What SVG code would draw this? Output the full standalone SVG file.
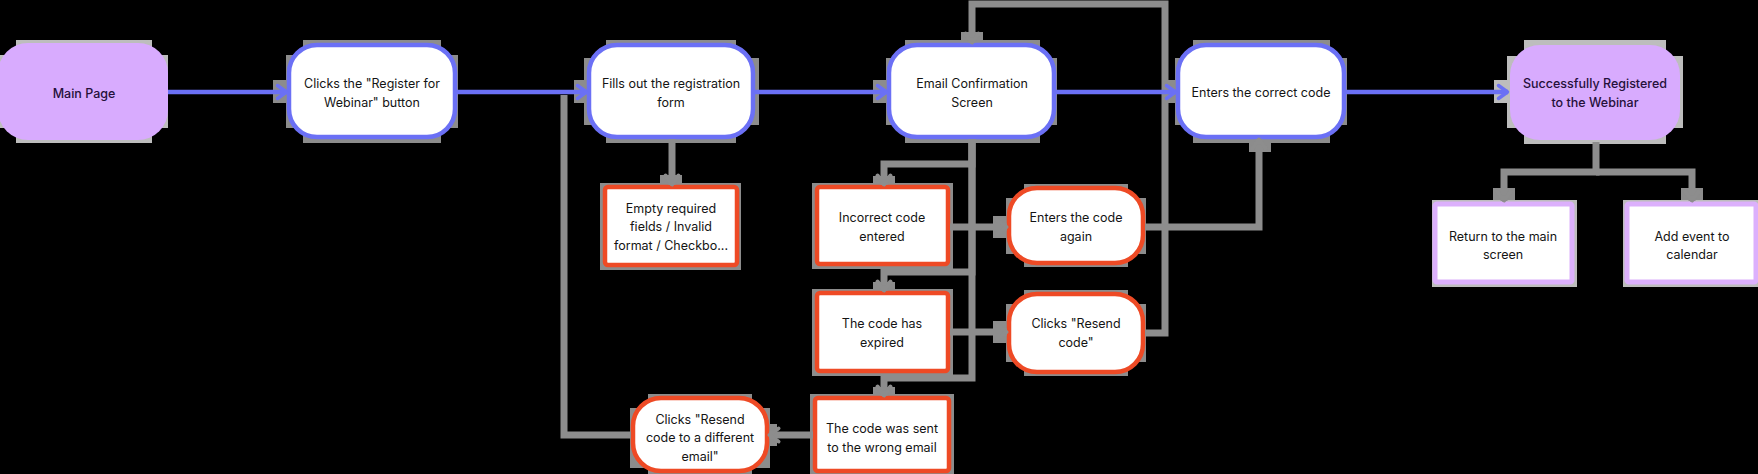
<svg xmlns="http://www.w3.org/2000/svg" width="1758" height="474" viewBox="0 0 1758 474">
<style>
.gh{fill:#8c8c8c}
.ghp{fill:#bdbdbd}
.nb{fill:#ffffff;stroke:#6b70f5;stroke-width:4.5}
.nr{fill:#ffffff;stroke:#ee4a25;stroke-width:4.5}
.np{fill:#d8abfe}
.npo{fill:#ffffff;stroke:#dcb0fc;stroke-width:5}
.cb{fill:none;stroke:#6b70f5;stroke-width:4.5}
.cg{fill:none;stroke:#8d8d8d;stroke-width:7}
text{font-family:Inter,"Noto Sans","Liberation Sans",sans-serif;font-size:12.5px;fill:#141414;text-anchor:middle}
.tp{fill:#25103a;font-weight:500}
</style>
<defs>
<marker id="ab" viewBox="0 0 12 16" markerWidth="12" markerHeight="16" markerUnits="userSpaceOnUse" refX="11" refY="8" orient="auto" overflow="visible">
<path d="M1.5,1.5 L10.5,8 L1.5,14.5" fill="none" stroke="#6b70f5" stroke-width="3.5" stroke-linecap="round" stroke-linejoin="round"/>
</marker>
<marker id="ag" viewBox="0 0 12 16" markerWidth="12" markerHeight="16" markerUnits="userSpaceOnUse" refX="11" refY="8" orient="auto" overflow="visible">
<path d="M1.5,1.5 L10.5,8 L1.5,14.5" fill="none" stroke="#8d8d8d" stroke-width="4" stroke-linecap="round" stroke-linejoin="round"/>
</marker>
</defs>
<rect width="1758" height="474" fill="#000000"/>

<g id="ghosts">
<rect class="ghp" x="16" y="40" width="136" height="103"/>
<rect class="ghp" x="-3" y="55" width="171" height="73"/>
<rect class="gh" x="303" y="40" width="138" height="103"/>
<rect class="gh" x="286" y="55" width="172" height="73"/>
<rect class="gh" x="606" y="40" width="130" height="103"/>
<rect class="gh" x="584" y="58" width="175" height="67"/>
<rect class="gh" x="905" y="40" width="135" height="103"/>
<rect class="gh" x="886" y="58" width="171" height="67"/>
<rect class="gh" x="1193" y="40" width="137" height="103"/>
<rect class="gh" x="1175" y="58" width="172" height="67"/>
<rect class="ghp" x="1524" y="40" width="142" height="104"/>
<rect class="ghp" x="1507" y="56" width="176" height="72"/>
<rect class="gh" x="600" y="183" width="141" height="87"/>
<rect class="gh" x="812" y="183" width="141" height="86"/>
<rect class="gh" x="1024" y="184" width="104" height="83"/>
<rect class="gh" x="1006" y="198" width="140" height="56"/>
<rect class="gh" x="812" y="289" width="141" height="87"/>
<rect class="gh" x="1024" y="290" width="104" height="86"/>
<rect class="gh" x="1006" y="304" width="140" height="58"/>
<rect class="gh" x="810" y="394" width="144" height="84"/>
<rect class="gh" x="648" y="394" width="104" height="84"/>
<rect class="gh" x="630" y="408" width="140" height="60"/>
<rect class="ghp" x="1432" y="200" width="145" height="87"/>
<rect class="ghp" x="1623" y="200" width="140" height="87"/>
<!-- arrowhead ghosts -->
<rect class="gh" x="273" y="80" width="16" height="23"/>
<rect class="gh" x="574" y="80" width="16" height="23"/>
<rect class="gh" x="873" y="80" width="16" height="23"/>
<rect class="gh" x="1162" y="80" width="16" height="23"/>
<rect class="ghp" x="1494" y="80" width="16" height="23"/>
<rect class="gh" x="660" y="175" width="22" height="12"/>
<rect class="gh" x="873" y="176" width="22" height="11"/>
<rect class="gh" x="873" y="282" width="22" height="11"/>
<rect class="gh" x="873" y="387" width="22" height="11"/>
<rect class="gh" x="993" y="216" width="16" height="22"/>
<rect class="gh" x="993" y="321" width="16" height="22"/>
<rect class="gh" x="767" y="424" width="10" height="22"/>
<rect class="gh" x="961" y="32" width="22" height="8"/>
<rect class="gh" x="1249" y="137" width="22" height="15"/>
<rect class="gh" x="1493" y="188" width="22" height="12"/>
<rect class="gh" x="1681" y="188" width="22" height="12"/>
</g>

<g id="n1"><rect class="np" x="-2" y="43" width="170" height="97" rx="30"/><text class="tp" x="84" y="97.5">Main Page</text></g>
<g id="n2"><rect class="nb" x="289" y="45" width="166" height="92" rx="28"/><text x="372" y="87.5">Clicks the "Register for</text><text x="372" y="106.5">Webinar" button</text></g>
<g id="n3"><rect class="nb" x="589" y="45" width="164" height="92" rx="28"/><text x="671" y="87.5">Fills out the registration</text><text x="671" y="106.5">form</text></g>
<g id="n4"><rect class="nb" x="889" y="45" width="165" height="92" rx="28"/><text x="972" y="87.5">Email Confirmation</text><text x="972" y="106.5">Screen</text></g>
<g id="n5"><rect class="nb" x="1178" y="45" width="166" height="92" rx="28"/><text x="1261" y="97">Enters the correct code</text></g>
<g id="n6"><rect class="np" x="1510" y="45" width="170" height="95" rx="30"/><text class="tp" x="1595" y="87.5">Successfully Registered</text><text class="tp" x="1595" y="106.5">to the Webinar</text></g>
<g id="n7"><rect class="nr" x="605" y="187" width="132" height="78" rx="3"/><text x="671" y="212.5">Empty required</text><text x="671" y="231">fields / Invalid</text><text x="671" y="249.5">format / Checkbo...</text></g>
<g id="n8"><rect class="nr" x="817" y="187" width="131" height="77" rx="3"/><text x="882" y="221.5">Incorrect code</text><text x="882" y="240.5">entered</text></g>
<g id="n9"><rect class="nr" x="1009" y="188" width="134" height="75" rx="28"/><text x="1076" y="221.5">Enters the code</text><text x="1076" y="240.5">again</text></g>
<g id="n10"><rect class="nr" x="817" y="293" width="131" height="78" rx="3"/><text x="882" y="327.5">The code has</text><text x="882" y="346.5">expired</text></g>
<g id="n11"><rect class="nr" x="1009" y="294" width="134" height="78" rx="28"/><text x="1076" y="327.5">Clicks "Resend</text><text x="1076" y="346.5">code"</text></g>
<g id="n12"><rect class="nr" x="815" y="398" width="134" height="73" rx="3"/><text x="882" y="432.5">The code was sent</text><text x="882" y="451.5">to the wrong email</text></g>
<g id="n13"><rect class="nr" x="633" y="398" width="134" height="73" rx="28"/><text x="700" y="423.5">Clicks "Resend</text><text x="700" y="442">code to a different</text><text x="700" y="460.5">email"</text></g>
<g id="n14"><rect class="npo" x="1435" y="204" width="137" height="78" rx="2"/><text x="1503" y="240.5">Return to the main</text><text x="1503" y="258.5">screen</text></g>
<g id="n15"><rect class="npo" x="1627" y="204" width="129" height="78" rx="2"/><text x="1692" y="240.5">Add event to</text><text x="1692" y="258.5">calendar</text></g>

<g id="connectors">
<path class="cg" d="M672,139 V185" marker-end="url(#ag)"/>
<path class="cg" d="M972,139 V164 H884 V185" marker-end="url(#ag)"/>
<path class="cg" d="M972,139 V272 H884 V291" marker-end="url(#ag)"/>
<path class="cg" d="M972,139 V378 H884 V396" marker-end="url(#ag)"/>
<path class="cg" d="M950,227 H1007" marker-end="url(#ag)"/>
<path class="cg" d="M950,332 H1007" marker-end="url(#ag)"/>
<path class="cg" d="M1145,227 H1259 V139" marker-end="url(#ag)"/>
<path class="cg" d="M1145,333 H1165 V4 H972 V43" marker-end="url(#ag)"/>
<path class="cg" d="M813,435 H769" marker-end="url(#ag)"/>
<path class="cg" d="M631,435 H564 V95"/>
<path class="cg" d="M1596,142 V172 H1504 V201" marker-end="url(#ag)"/>
<path class="cg" d="M1596,172 H1692 V201" marker-end="url(#ag)"/>
<path class="cb" d="M168,92 H287" marker-end="url(#ab)"/>
<path class="cb" d="M457,92 H587" marker-end="url(#ab)"/>
<path class="cb" d="M755,92 H887" marker-end="url(#ab)"/>
<path class="cb" d="M1056,92 H1176" marker-end="url(#ab)"/>
<path class="cb" d="M1346,92 H1508" marker-end="url(#ab)"/>
</g>
</svg>
